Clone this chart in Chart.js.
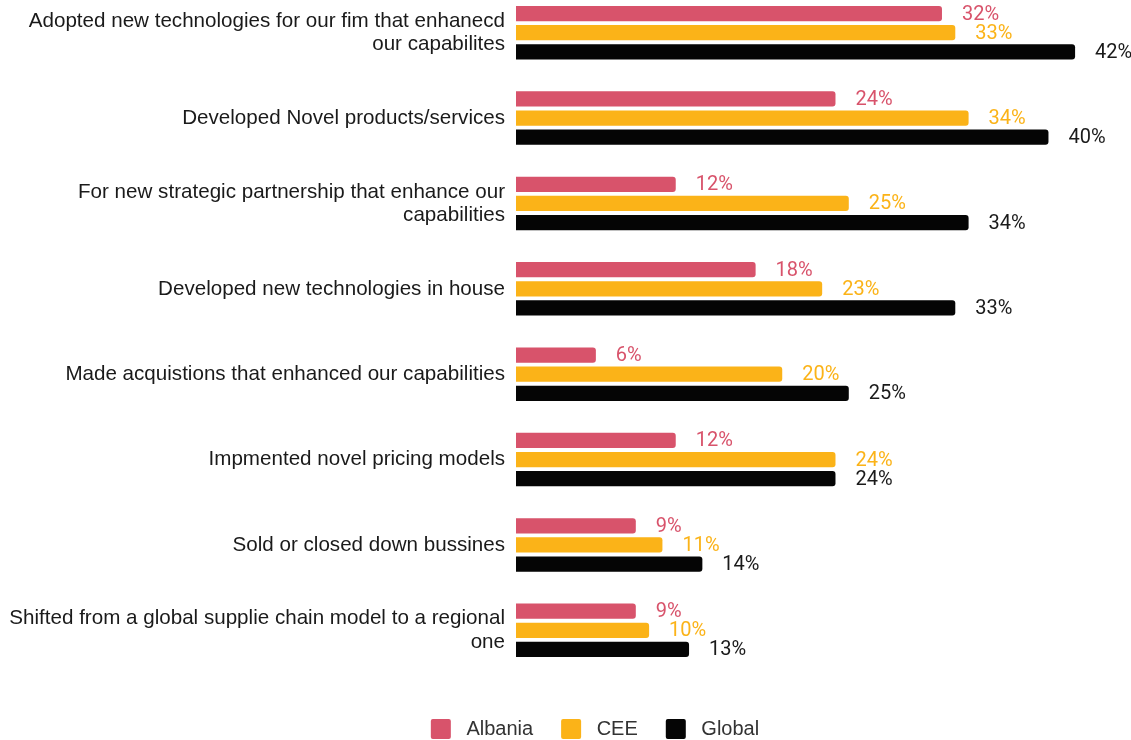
<!DOCTYPE html>
<html>
<head>
<meta charset="utf-8">
<script src="https://cdn.jsdelivr.net/npm/chart.js@4/dist/chart.umd.min.js"></script>
<style>
  html, body { margin: 0; padding: 0; background: #fff; overflow: hidden; }
  #wrap { position: absolute; left: 0; top: -10px; width: 1131px; height: 759px; }
</style>
</head>
<body>
<div id="wrap"><canvas id="capChart"></canvas></div>
<script>
var categories = [
  ["Adopted new technologies for our fim that enhanecd", "our capabilites"],
  "Developed Novel products/services",
  ["For new strategic partnership that enhance our", "capabilities"],
  "Developed new technologies in house",
  "Made acquistions that enhanced our capabilities",
  "Impmented novel pricing models",
  "Sold or closed down bussines",
  ["Shifted from a global supplie chain model to a regional", "one"]
];
var albania = [32, 24, 12, 18, 6, 12, 9, 9];
var cee = [33, 34, 25, 23, 20, 24, 11, 10];
var global = [42, 40, 34, 33, 25, 24, 14, 13];

var seriesColors = ["#d8536b", "#fbb318", "#050505"];
var labelColors = ["#d8536b", "#fbb318", "#1a1a1a"];

// writes "NN%" just past the end of every bar
var valueLabels = {
  id: "valueLabels",
  afterDatasetsDraw: function (chart) {
    var ctx = chart.ctx;
    ctx.save();
    ctx.font = "20px Roboto";
    ctx.textAlign = "left";
    ctx.textBaseline = "middle";
    chart.data.datasets.forEach(function (ds, i) {
      var meta = chart.getDatasetMeta(i);
      ctx.fillStyle = labelColors[i];
      meta.data.forEach(function (bar, j) {
        ctx.fillText(ds.data[j] + "%", bar.x + 20, bar.y + 1);
      });
    });
    ctx.restore();
  }
};

// nudge the legend row a bit to the right of the canvas centre
var legendShift = {
  id: "legendShift",
  afterLayout: function (chart) {
    chart.legend.left += 59;
  }
};

var ctx = document.getElementById("capChart").getContext("2d");
var capChart = new Chart(ctx, {
  type: "bar",
  data: {
    labels: categories,
    datasets: [
      { label: "Albania", data: albania, backgroundColor: seriesColors[0] },
      { label: "CEE", data: cee, backgroundColor: seriesColors[1] },
      { label: "Global", data: global, backgroundColor: seriesColors[2] }
    ]
  },
  options: {
    indexAxis: "y",
    responsive: true,
    maintainAspectRatio: false,
    animation: false,
    layout: { padding: 0 },
    datasets: {
      bar: {
        categoryPercentage: 0.67,
        barPercentage: 0.8,
        borderRadius: 3
      }
    },
    scales: {
      x: {
        display: false,
        min: 0,
        max: 46.2
      },
      y: {
        grid: { display: false },
        border: { display: false },
        ticks: {
          padding: 3,
          color: "#1a1a1a",
          font: { family: "'Liberation Sans', Arial", size: 20.6, lineHeight: 1.12 }
        },
        afterFit: function (scale) {
          scale.width = 516;
          scale.paddingTop = 0;
          scale.paddingBottom = 0;
        }
      }
    },
    plugins: {
      tooltip: { enabled: false },
      legend: {
        position: "bottom",
        // empty title just adds space above the legend row
        title: { display: true, text: "", padding: 0, font: { size: 18, lineHeight: 1 } },
        labels: {
          boxWidth: 20,
          boxHeight: 20,
          padding: 28,
          useBorderRadius: true,
          borderRadius: 2,
          color: "#333333",
          font: { family: "'Liberation Sans', Arial", size: 20 },
          generateLabels: function (chart) {
            var items = Chart.defaults.plugins.legend.labels.generateLabels(chart);
            items.forEach(function (it) {
              it.text = " " + it.text;
            });
            return items;
          }
        }
      }
    }
  },
  plugins: [valueLabels, legendShift]
});
</script>
</body>
</html>
